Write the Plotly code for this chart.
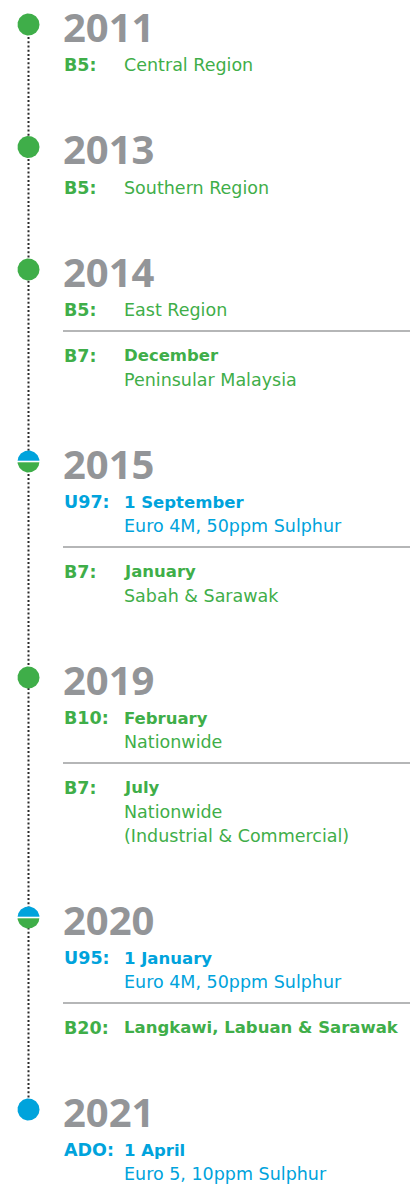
import numpy as np
import plotly.graph_objects as go

# ---------------- data ----------------
years = ["2011", "2013", "2014", "2015", "2019", "2020", "2021"]
entry_year = ["2011", "2013", "2014", "2014", "2015", "2015", "2019", "2019", "2020", "2020", "2021"]
entry_code = ["B5:", "B5:", "B5:", "B7:", "U97:", "B7:", "B10:", "B7:", "U95:", "B20:", "ADO:"]
entry_head = ["", "", "", "December", "1 September", "January", "February", "July",
              "1 January", "Langkawi, Labuan & Sarawak", "1 April"]
entry_body = [["Central Region"], ["Southern Region"], ["East Region"], ["Peninsular Malaysia"],
              ["Euro 4M, 50ppm Sulphur"], ["Sabah & Sarawak"], ["Nationwide"],
              ["Nationwide", "(Industrial & Commercial)"], ["Euro 4M, 50ppm Sulphur"], [],
              ["Euro 5, 10ppm Sulphur"]]
entry_fuel = ["Biodiesel", "Biodiesel", "Biodiesel", "Biodiesel", "Petrol", "Biodiesel",
              "Biodiesel", "Biodiesel", "Petrol", "Biodiesel", "Diesel"]

# ---------------- style ----------------
W, H = 414, 1184
GREEN = "#3fae49"
BLUE = "#00a3dc"
GREY = "#939598"
FUEL_COLOR = {"Biodiesel": GREEN, "Petrol": BLUE, "Diesel": BLUE}
YEAR_FONT = "Open Sans"
BODY_FONT = "DejaVu Sans"

DOT_X = 28.5
R = 11
X_YEAR = 61
X_CODE = 62
X_BODY = 122
TOP = 24.5
FIRST = 40.5
LINE = 24
SEP = 21
AFTER_SEP = 24.5
NEXT_YEAR = 82

# ---------------- layout computation ----------------
year_y = {}
texts = []      # (x, y, text, color, size, bold)
seps = []
y = TOP
for yr in years:
    year_y[yr] = y
    idx = [i for i, e in enumerate(entry_year) if e == yr]
    cur = y + FIRST
    for k, i in enumerate(idx):
        if k > 0:
            sep_y = last + SEP
            seps.append(sep_y)
            cur = sep_y + AFTER_SEP
        col = FUEL_COLOR[entry_fuel[i]]
        texts.append((X_CODE, cur, entry_code[i], col, 17.5, True))
        lines = []
        if entry_head[i]:
            lines.append((entry_head[i], True))
        lines += [(b, False) for b in entry_body[i]]
        ly = cur
        for t, b in lines:
            texts.append((X_BODY, ly, t, col, 16.5 if b else 17.5, b))
            last = ly
            ly += LINE
    y = last + NEXT_YEAR

fig = go.Figure()

# dotted timeline
fig.add_trace(go.Scatter(
    x=[DOT_X, DOT_X], y=[year_y[years[0]], year_y[years[-1]]],
    mode="lines", line=dict(color="#2b2b2b", width=2, dash="2px,2.2px"),
    hoverinfo="skip", showlegend=False))

# circles
theta_top = np.linspace(np.pi, 2 * np.pi, 60)
theta_bot = np.linspace(0, np.pi, 60)
for yr in years:
    cy = year_y[yr]
    kinds = {FUEL_COLOR[entry_fuel[i]] for i, e in enumerate(entry_year) if e == yr}
    if len(kinds) == 1:
        c = kinds.pop()
        t = np.linspace(0, 2 * np.pi, 120)
        fig.add_trace(go.Scatter(x=DOT_X + R * np.cos(t), y=cy + R * np.sin(t),
                                 mode="lines", fill="toself", fillcolor=c,
                                 line=dict(width=0, color=c), hoverinfo="skip", showlegend=False))
    else:
        fig.add_trace(go.Scatter(x=DOT_X + R * np.cos(theta_top), y=cy + R * np.sin(theta_top),
                                 mode="lines", fill="toself", fillcolor=BLUE,
                                 line=dict(width=0, color=BLUE), hoverinfo="skip", showlegend=False))
        fig.add_trace(go.Scatter(x=DOT_X + R * np.cos(theta_bot), y=cy + R * np.sin(theta_bot),
                                 mode="lines", fill="toself", fillcolor=GREEN,
                                 line=dict(width=0, color=GREEN), hoverinfo="skip", showlegend=False))
        fig.add_shape(type="line", x0=DOT_X - R - 1, x1=DOT_X + R + 1, y0=cy, y1=cy,
                      line=dict(color="white", width=1.6))

annotations = []
for yr in years:
    annotations.append(dict(x=X_YEAR, y=year_y[yr] + 1.5, text="<b>%s</b>" % yr,
                            xanchor="left", yanchor="middle", showarrow=False,
                            font=dict(family=YEAR_FONT, size=40, color=GREY)))
for (x, ty, t, col, size, bold) in texts:
    annotations.append(dict(x=x, y=ty, text=("<b>%s</b>" % t) if bold else t,
                            xanchor="left", yanchor="middle", showarrow=False,
                            font=dict(family=BODY_FONT, size=size, color=col)))

for sy in seps:
    fig.add_shape(type="line", x0=X_CODE + 1, x1=410, y0=sy, y1=sy,
                  line=dict(color="#6d6e71", width=1.2))

fig.update_layout(
    width=W, height=H, margin=dict(l=0, r=0, t=0, b=0),
    paper_bgcolor="white", plot_bgcolor="white",
    xaxis=dict(range=[0, W], visible=False, fixedrange=True),
    yaxis=dict(range=[H, 0], visible=False, fixedrange=True),
    annotations=annotations, showlegend=False,
)

fig.write_html("out.html", config={"displayModeBar": False},
               post_script="document.body.style.margin='0';document.body.style.overflow='hidden';")
